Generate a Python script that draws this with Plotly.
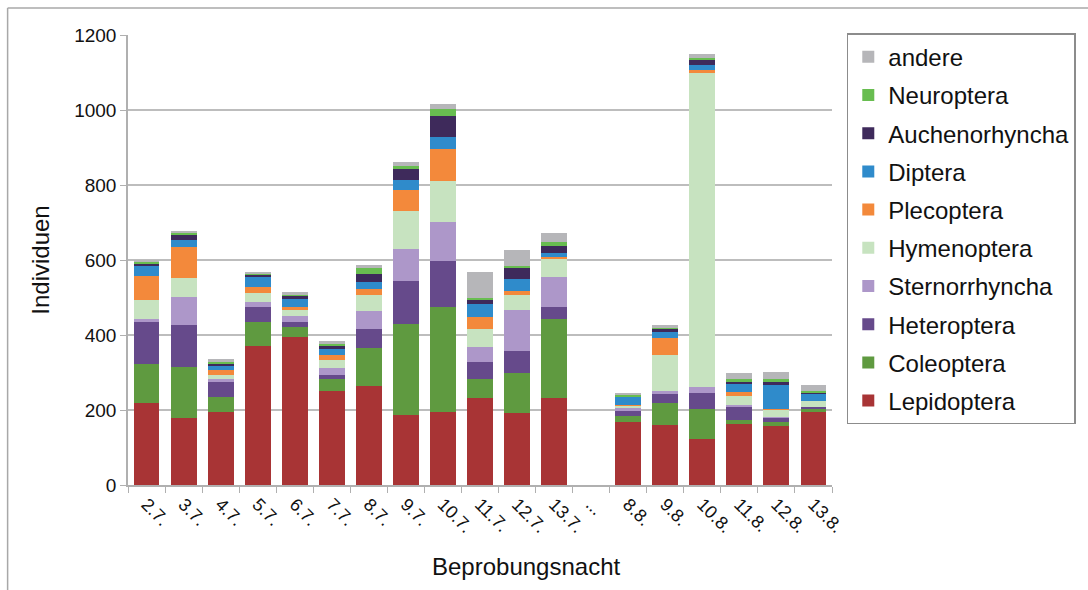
import plotly.graph_objects as go

# Sampling nights (the "..." slot marks the gap between July and August)
nights = ["2.7.", "3.7.", "4.7.", "5.7.", "6.7.", "7.7.", "8.7.", "9.7.", "10.7.",
          "11.7.", "12.7.", "13.7.", "...", "8.8.", "9.8.", "10.8.", "11.8.", "12.8.", "13.8."]

# Individuals per order and night (None = no sampling)
lepidoptera    = [219, 179, 195, 372, 394, 252, 264, 187, 194, 231, 191, 231, None, 167, 160, 123, 163, 158, 196]
coleoptera     = [104, 135, 41, 62, 28, 32, 101, 242, 280, 53, 109, 211, None, 17, 60, 79, 10, 11, 7]
heteroptera    = [113, 112, 40, 40, 14, 9, 52, 116, 123, 45, 58, 32, None, 13, 24, 44, 36, 11, 5]
sternorrhyncha = [8, 76, 6, 15, 16, 20, 48, 85, 105, 40, 109, 82, None, 10, 7, 16, 4, 2, 1]
hymenoptera    = [49, 49, 11, 24, 16, 20, 42, 102, 110, 47, 40, 46, None, 4, 96, 836, 24, 18, 15]
plecoptera     = [64, 84, 14, 16, 8, 15, 17, 56, 84, 31, 10, 7, None, 3, 44, 10, 10, 2, 1]
diptera        = [27, 18, 10, 28, 19, 15, 18, 25, 31, 37, 32, 9, None, 21, 18, 12, 22, 66, 19]
auchenorhyncha = [7, 14, 7, 4, 9, 9, 20, 30, 58, 11, 29, 20, None, 2, 7, 15, 6, 8, 2]
neuroptera     = [5, 5, 4, 3, 5, 5, 18, 8, 17, 5, 6, 10, None, 4, 4, 4, 9, 7, 5]
andere         = [4, 5, 7, 3, 5, 7, 7, 11, 14, 69, 43, 25, None, 5, 8, 10, 16, 19, 15]

series = [
    ("Lepidoptera", lepidoptera, "#a83435"),
    ("Coleoptera", coleoptera, "#5f9a40"),
    ("Heteroptera", heteroptera, "#664a8b"),
    ("Sternorrhyncha", sternorrhyncha, "#ad97c9"),
    ("Hymenoptera", hymenoptera, "#c7e3c0"),
    ("Plecoptera", plecoptera, "#f3893b"),
    ("Diptera", diptera, "#2f8bcb"),
    ("Auchenorhyncha", auchenorhyncha, "#3e2a5b"),
    ("Neuroptera", neuroptera, "#68bd50"),
    ("andere", andere, "#b6b6b9"),
]

fig = go.Figure()
n = len(series)
for i, (name, vals, color) in enumerate(series):
    fig.add_trace(go.Bar(
        x=nights, y=vals, name=name, legendgroup=name,
        legendrank=n - i,  # top of the stack listed first
        marker=dict(color=color, line=dict(width=0)),
    ))

font = "Liberation Sans, Arial, sans-serif"
axis_grey = "#b0b0b0"

fig.update_layout(
    width=1088, height=590,
    barmode="stack", bargap=0.30,
    paper_bgcolor="white", plot_bgcolor="white",
    margin=dict(l=128, r=252, t=35, b=105),
    font=dict(family=font, color="#111111"),
    legend=dict(
        x=1.021, y=1.004, xanchor="left", yanchor="top",
        traceorder="grouped", tracegroupgap=4,
        font=dict(size=24, family=font, color="#111111"),
        bordercolor="#8c8c8c", borderwidth=1.5,
        itemwidth=30, maxheight=480,
    ),
    xaxis=dict(
        type="category", categoryorder="array", categoryarray=nights,
        tickangle=45, tickfont=dict(size=18),
        ticks="outside", tickson="boundaries", ticklen=6, tickcolor=axis_grey,
        showline=True, linecolor=axis_grey, linewidth=1.5,
    ),
    yaxis=dict(
        range=[0, 1200], tickvals=[0, 200, 400, 600, 800, 1000, 1200],
        tickfont=dict(size=19), ticks="outside", ticklen=6, tickcolor=axis_grey,
        showline=True, linecolor=axis_grey, linewidth=1.5,
        showgrid=True, gridcolor="#bdbdbd", gridwidth=1.5,
        zeroline=False,
        title=dict(text="Individuen", font=dict(size=24), standoff=18),
    ),
    annotations=[
        dict(text="Beprobungsnacht", xref="paper", yref="paper",
             x=0.566, y=-0.182, xanchor="center", yanchor="middle",
             showarrow=False, font=dict(size=24, family=font, color="#111111")),
    ],
    shapes=[
        dict(type="line", xref="paper", yref="paper",
             x0=-0.171, x1=-0.171, y0=1.06, y1=-0.25,
             line=dict(color="#a8a8a8", width=1.5)),
        dict(type="line", xref="paper", yref="paper",
             x0=-0.171, x1=1.4, y0=1.06, y1=1.06,
             line=dict(color="#a8a8a8", width=1.5)),
    ],
)

fig.write_html("out.html")
